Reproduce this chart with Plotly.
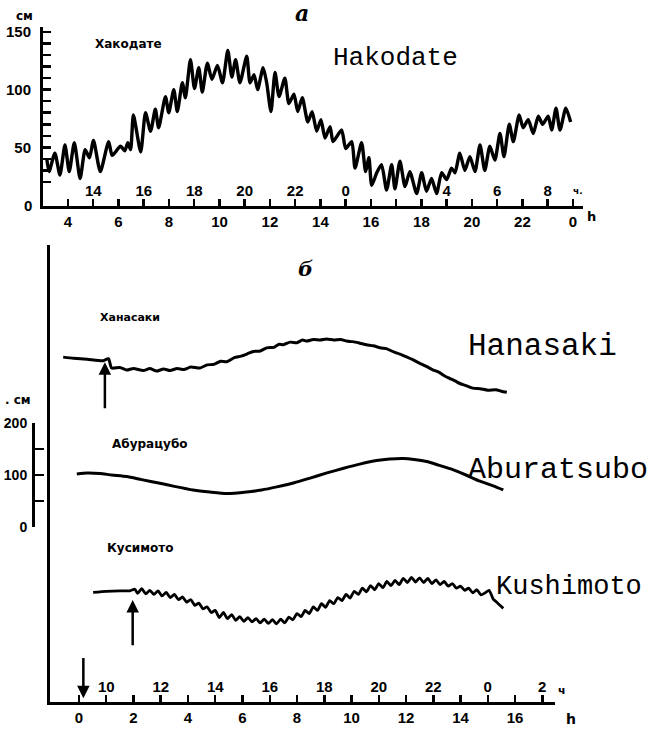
import plotly.graph_objects as go

W, H = 659, 732

# ---------------- Panel a: Hakodate (hours UT, cm) ----------------
HAK_T = [3.16, 3.25, 3.48, 3.68, 3.88, 4.05, 4.25, 4.48, 4.68, 4.85,
         5.01, 5.28, 5.61, 5.75, 6.08, 6.25, 6.37, 6.48, 6.59, 6.88,
         7.07, 7.27, 7.46, 7.59, 7.86, 7.99, 8.19, 8.33, 8.53, 8.65,
         8.85, 9.01, 9.18, 9.32, 9.52, 9.70, 9.92, 10.12, 10.33, 10.49,
         10.64, 10.81, 11.08, 11.21, 11.37, 11.51, 11.73, 11.87, 12.04, 12.20,
         12.36, 12.59, 12.75, 12.95, 13.10, 13.28, 13.50, 13.67, 13.85, 14.02,
         14.18, 14.38, 14.50, 14.84, 15.00, 15.24, 15.37, 15.63, 15.79, 15.92,
         16.03, 16.23, 16.42, 16.62, 16.82, 16.95, 17.15, 17.35, 17.54, 17.81,
         18.01, 18.20, 18.40, 18.60, 18.80, 19.00, 19.19, 19.33, 19.52, 19.72,
         19.92, 20.12, 20.32, 20.51, 20.71, 20.91, 21.11, 21.27, 21.48, 21.64,
         21.87, 22.03, 22.23, 22.43, 22.63, 22.80, 23.02, 23.16, 23.33, 23.49,
         23.72, 23.91]
HAK_CM = [40, 29, 45, 26, 52, 29, 54, 23, 48, 41,
          56, 29, 55, 43, 51, 47, 54, 48, 78, 46,
          80, 64, 83, 67, 94, 80, 100, 81, 106, 93,
          126, 101, 119, 98, 123, 109, 121, 106, 134, 111,
          126, 106, 129, 106, 113, 100, 119, 106, 81, 115,
          94, 110, 88, 96, 81, 93, 72, 81, 64, 74,
          58, 68, 55, 65, 49, 55, 32, 54, 29, 41,
          17, 28, 35, 13, 35, 14, 38, 16, 29, 10,
          28, 12, 23, 10, 28, 22, 32, 28, 45, 30,
          42, 29, 52, 30, 51, 39, 62, 42, 70, 55,
          78, 67, 74, 62, 77, 70, 77, 65, 84, 65,
          84, 72]

HAK_HOURS = [4, 6, 8, 10, 12, 14, 16, 18, 20, 22, 24]
HAK_HOUR_LABELS = ["4", "6", "8", "10", "12", "14", "16", "18", "20", "22", "0"]
HAK_LOCAL_POS = [5, 7, 9, 11, 13, 15, 17, 19, 21, 23]
HAK_LOCAL_LABELS = ["14", "16", "18", "20", "22", "0", "", "4", "6", "8"]
HAK_CM_TICKS = [0, 10, 20, 30, 40, 50, 60, 70, 80, 90, 100, 110, 120, 130, 140, 150]
HAK_CM_LABELS = ["0", "", "", "", "", "50", "", "", "", "", "100", "", "", "", "", "150"]

# ---------------- Panel b: stations (hours UT, cm incl. vertical offset) ----------------
HAN_T = [-0.58, -0.2, 0.3, 0.89, 1.08, 1.2, 1.5, 1.75, 2.0, 2.36,
         2.6, 2.85, 3.1, 3.34, 3.6, 3.85, 4.1, 4.44, 4.7, 4.95,
         5.2, 5.42, 5.7, 5.95, 6.16, 6.4, 6.65, 6.89, 7.15, 7.35,
         7.5, 7.75, 8.0, 8.2, 8.36, 8.6, 8.85, 9.09, 9.35, 9.6,
         9.82, 10.05, 10.31, 10.55, 10.8, 11.05, 11.3, 11.55, 11.78, 12.0,
         12.25, 12.51, 12.75, 13.0, 13.2, 13.37, 13.6, 13.8, 13.98, 14.2,
         14.45, 14.72, 15.0, 15.3, 15.5, 15.7]
HAN_CM = [328, 326, 324, 321, 325, 307, 308, 303, 306, 302,
          306, 301, 305, 302, 306, 304, 309, 307, 313, 314,
          320, 319, 327, 330, 334, 339, 340, 346, 347, 353,
          352, 357, 356, 361, 359, 362, 361, 363, 361, 362,
          359, 358, 355, 352, 350, 346, 344, 338, 334, 329,
          323, 316, 310, 303, 299, 293, 287, 282, 277, 273,
          268, 267, 264, 265, 262, 260]

ABU_T = [-0.08, 0.3, 0.77, 1.2, 1.75, 2.3, 2.97, 3.5, 4.19, 4.8,
         5.42, 6.15, 6.7, 7.26, 7.9, 8.48, 9.1, 9.71, 10.3, 10.92,
         11.4, 11.9, 12.3, 12.76, 13.2, 13.74, 14.2, 14.72, 15.2, 15.57]
ABU_CM = [102, 104, 103, 100, 97, 91, 84, 78, 71, 67,
          64, 67, 71, 77, 85, 94, 104, 113, 121, 128,
          131, 132, 130, 126, 119, 110, 100, 88, 79, 71]

KUS_T = [0.52, 1.0, 1.5, 1.87, 2.05, 2.15, 2.3, 2.45, 2.6, 2.75,
         2.9, 3.05, 3.2, 3.35, 3.5, 3.65, 3.8, 3.95, 4.1, 4.25,
         4.4, 4.55, 4.7, 4.85, 5.0, 5.15, 5.3, 5.45, 5.6, 5.75,
         5.9, 6.05, 6.2, 6.35, 6.5, 6.65, 6.8, 6.95, 7.1, 7.25,
         7.4, 7.55, 7.7, 7.85, 8.0, 8.15, 8.3, 8.45, 8.6, 8.75,
         8.9, 9.05, 9.2, 9.35, 9.5, 9.65, 9.8, 9.95, 10.1, 10.25,
         10.4, 10.55, 10.7, 10.85, 11.0, 11.15, 11.3, 11.45, 11.6, 11.75,
         11.9, 12.05, 12.2, 12.35, 12.5, 12.65, 12.8, 12.95, 13.1, 13.25,
         13.4, 13.55, 13.7, 13.85, 14.0, 14.15, 14.3, 14.45, 14.6, 14.75,
         14.9, 15.05, 15.2, 15.35, 15.57]
KUS_CM = [-127, -125, -124, -124, -121, -129, -120, -130, -123, -131,
          -124, -134, -127, -137, -131, -141, -136, -146, -141, -152,
          -148, -159, -155, -166, -162, -176, -166, -178, -170, -181,
          -174, -183, -176, -184, -178, -186, -179, -187, -180, -188,
          -179, -186, -175, -180, -168, -174, -162, -168, -155, -162,
          -149, -156, -143, -149, -137, -143, -131, -138, -125, -131,
          -119, -126, -114, -122, -110, -118, -106, -114, -104, -112,
          -100, -108, -98, -107, -99, -108, -100, -110, -103, -112,
          -106, -115, -110, -119, -115, -123, -119, -128, -122, -132,
          -128, -123, -140, -147, -158]

B_HOURS = [0, 2, 4, 6, 8, 10, 12, 14, 16]
B_HOUR_LABELS = ["0", "2", "4", "6", "8", "10", "12", "14", "16"]
B_LOCAL_POS = [1, 3, 5, 7, 9, 11, 13, 15, 17]
B_LOCAL_LABELS = ["10", "12", "14", "16", "18", "20", "22", "0", "2"]
SCALE_TICKS = [0, 50, 100, 150, 200]
SCALE_LABELS = ["0", "", "100", "", "200"]


def px(x):
    return x / W


def py(y):
    return 1 - y / H


TICKFONT = dict(family="Liberation Sans, Arial, sans-serif", size=15, color="black", weight="bold")
LINE = dict(color="black", shape="spline", smoothing=0.6)

fig = go.Figure()
fig.add_trace(go.Scatter(x=HAK_T, y=HAK_CM, xaxis="x", yaxis="y", mode="lines",
                         line=dict(width=3.4, **LINE), hoverinfo="skip"))
fig.add_trace(go.Scatter(x=HAN_T, y=HAN_CM, xaxis="x2", yaxis="y2", mode="lines",
                         line=dict(width=3, **LINE), hoverinfo="skip"))
fig.add_trace(go.Scatter(x=ABU_T, y=ABU_CM, xaxis="x2", yaxis="y2", mode="lines",
                         line=dict(width=3, **LINE), hoverinfo="skip"))
fig.add_trace(go.Scatter(x=KUS_T, y=KUS_CM, xaxis="x2", yaxis="y2", mode="lines",
                         line=dict(width=2.8, **LINE), hoverinfo="skip"))
# invisible helpers so that overlay / scale axes are drawn
fig.add_trace(go.Scatter(x=[HAK_LOCAL_POS[0]], y=[0], xaxis="x3", yaxis="y", mode="markers",
                         marker=dict(opacity=0), hoverinfo="skip"))
fig.add_trace(go.Scatter(x=[B_LOCAL_POS[0]], y=[0], xaxis="x4", yaxis="y2", mode="markers",
                         marker=dict(opacity=0), hoverinfo="skip"))
fig.add_trace(go.Scatter(x=[0], y=[0], xaxis="x2", yaxis="y3", mode="markers",
                         marker=dict(opacity=0), hoverinfo="skip"))

common = dict(showgrid=False, zeroline=False, linecolor="black", tickcolor="black",
              tickfont=TICKFONT, fixedrange=True, automargin=False)

ann = []


def text(x, y, s, size, family="DejaVu Sans", weight="bold", style="normal"):
    ann.append(dict(x=px(x), y=py(y), xref="paper", yref="paper", text=s, showarrow=False,
                    xanchor="center", yanchor="middle",
                    font=dict(family=family, size=size, color="black", weight=weight, style=style)))


MONO = "Liberation Mono, Courier New, monospace"
text(24, 16, "см", 12)
text(302, 13, "а", 22, family="DejaVu Serif", style="italic")
text(128, 44, "Хакодате", 12)
text(395, 58, "Hakodate", 26, family=MONO, weight="normal")
text(578, 191, "ч.", 9)
text(591, 216, "h", 13)

text(305, 268, "б", 21, family="DejaVu Serif", style="italic")
text(130, 318, "Ханасаки", 11)
text(542, 346, "Hanasaki", 31, family=MONO, weight="normal")
text(150, 444, "Абурацубо", 12)
text(558, 470, "Aburatsubo", 30, family=MONO, weight="normal")
text(140, 548, "Кусимото", 12)
text(569, 587, "Kushimoto", 27, family=MONO, weight="normal")
text(18, 400, ". см", 12)
text(562, 690, "ч", 11)
text(571, 719, "h", 14)

# zero label of the Hakodate cm axis (plotly hides the corner tick label)
ann.append(dict(x=px(34), y=HAK_CM_TICKS[0], xref="paper", yref="y", text=HAK_CM_LABELS[0],
                showarrow=False, xanchor="right", yanchor="middle", font=TICKFONT))

# arrows (arrival markers)
for (x0, y0, x1, y1) in [(0.95, 226, 0.95, 318), (1.97, -232, 1.97, -142), (0.16, -251, 0.16, -332)]:
    ann.append(dict(x=x1, y=y1, ax=x0, ay=y0, xref="x2", yref="y2", axref="x2", ayref="y2",
                    text="", showarrow=True, arrowhead=2, arrowsize=1, arrowwidth=2.5,
                    arrowcolor="black"))

fig.update_layout(
    template="none",
    width=W, height=H, autosize=False,
    margin=dict(l=0, r=0, t=0, b=0, pad=0),
    paper_bgcolor="white", plot_bgcolor="rgba(0,0,0,0)",
    showlegend=False,
    annotations=ann,
    xaxis=dict(domain=[px(43), px(583)], range=[3.01, 24.40], anchor="y",
               showline=True, linewidth=3, ticks="inside", ticklen=7, tickwidth=2.5,
               tickvals=HAK_HOURS, ticktext=HAK_HOUR_LABELS, **common),
    xaxis3=dict(overlaying="x", anchor="y", side="bottom", range=[3.01, 24.40],
                showline=False, ticks="inside", ticklen=7, tickwidth=2.5,
                ticklabelposition="inside",
                tickvals=HAK_LOCAL_POS, ticktext=HAK_LOCAL_LABELS, **common),
    yaxis=dict(domain=[py(206.2), py(27)], range=[-1, 154.3], anchor="x",
               showline=True, linewidth=3, ticks="inside", ticklen=8, tickwidth=2.5,
               ticklabelstandoff=6,
               tickvals=HAK_CM_TICKS, ticktext=HAK_CM_LABELS, **common),
    xaxis2=dict(domain=[px(50), px(555)], range=[-1.064, 17.468], anchor="y2",
                showline=True, linewidth=3, ticks="inside", ticklen=7, tickwidth=2.5,
                tickvals=B_HOURS, ticktext=B_HOUR_LABELS, **common),
    xaxis4=dict(overlaying="x2", anchor="y2", side="bottom", range=[-1.064, 17.468],
                showline=False, ticks="inside", ticklen=7, tickwidth=2.5,
                ticklabelposition="inside",
                tickvals=B_LOCAL_POS, ticktext=B_LOCAL_LABELS, **common),
    yaxis2=dict(domain=[py(702), py(245)], range=[-339.1, 544.9], anchor="x2",
                showline=True, linewidth=3, ticks="", showticklabels=False,
                showgrid=False, zeroline=False, linecolor="black", fixedrange=True,
                automargin=False),
    yaxis3=dict(domain=[py(527), py(423.3)], range=[0, 200], anchor="free", position=px(33),
                showline=True, linewidth=3, ticks="inside", ticklen=9, tickwidth=2.5,
                ticklabelstandoff=2,
                tickvals=SCALE_TICKS, ticktext=SCALE_LABELS,
                **{**common, "tickfont": dict(TICKFONT, size=14)}),
)

fig.write_html("out.html", config={"staticPlot": True},
               post_script="document.body.style.margin='0px';document.body.style.overflow='hidden';")
